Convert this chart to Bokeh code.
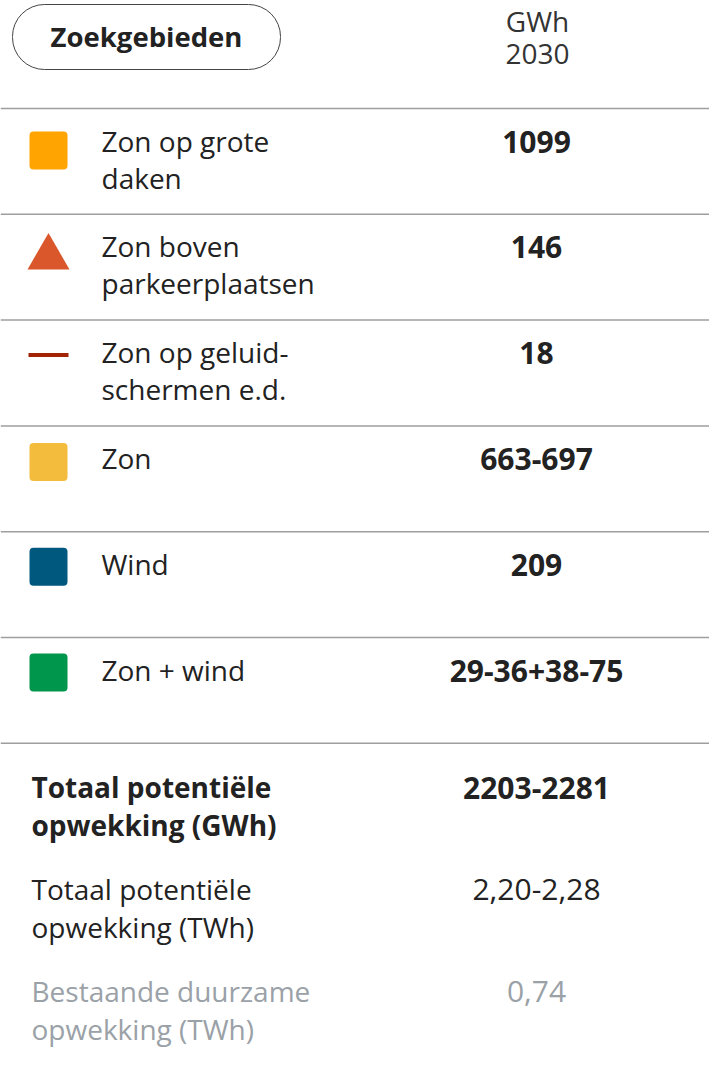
from bokeh.plotting import figure
from bokeh.models import Range1d
from bokeh.embed import file_html
from bokeh.resources import INLINE
from bokeh.core.properties import value

# ---- data ----
header_button = "Zoekgebieden"
header_unit = ["GWh", "2030"]
cat_lines = [["Zon op grote", "daken"],
             ["Zon boven", "parkeerplaatsen"],
             ["Zon op geluid-", "schermen e.d."],
             ["Zon"],
             ["Wind"],
             ["Zon + wind"]]
cat_values = ["1099", "146", "18", "663-697", "209", "29-36+38-75"]
cat_icons = ["square", "triangle", "line", "square", "square", "square"]
cat_colors = ["#FFA400", "#D9572B", "#A32405", "#F4BC3C", "#00587F", "#00964B"]
total_lines = [["Totaal potentiële", "opwekking (GWh)"],
               ["Totaal potentiële", "opwekking (TWh)"],
               ["Bestaande duurzame", "opwekking (TWh)"]]
total_values = ["2203-2281", "2,20-2,28", "0,74"]

# ---- layout constants ----
W, H = 709, 1074
FONT = "Open Sans"
DARK = "#222222"
GRAY_TXT = "#9AA1A7"
RULE = "#9E9E9E"
ROW0, ROWH = 108, 105.8
VAL_X = 536
LBL_X = 101
TOT_X = 31
FS = "28px"
VFS = "30px"
icon_dy = [8, 3, 1, 2, 1, 1]

p = figure(width=W, height=H, x_range=Range1d(0, W), y_range=Range1d(H, 0),
           output_backend="svg", toolbar_location=None, min_border=0,
           outline_line_color=None)
p.axis.visible = False
p.grid.visible = False
p.background_fill_color = "white"
p.border_fill_color = "white"

# header button
p.quad(left=[12], right=[280], top=[4], bottom=[69], fill_color="white",
       line_color="#444444", line_width=1, border_radius=32)
p.text(x=[146], y=[36], text=[header_button], text_font=value(FONT),
       text_font_style="bold", text_font_size="27.5px", text_color=DARK,
       text_align="center", text_baseline="middle")
p.text(x=[VAL_X + 1, VAL_X + 1], y=[20, 53], text=header_unit, text_font=value(FONT),
       text_font_size="28px", text_color="#333333", text_align="center", text_baseline="middle")

# rules
rule_ys = [ROW0 + i * ROWH for i in range(len(cat_values) + 1)]
p.segment(x0=[0] * len(rule_ys), x1=[W] * len(rule_ys), y0=rule_ys, y1=rule_ys,
          line_color=RULE, line_width=1.5)

# category rows
for i, (lines, val, icon, col) in enumerate(zip(cat_lines, cat_values, cat_icons, cat_colors)):
    top = ROW0 + i * ROWH
    y1 = top + 32
    ys = [y1 + 37 * k for k in range(len(lines))]
    p.text(x=[LBL_X] * len(lines), y=ys, text=lines, text_font=value(FONT),
           text_font_size=FS, text_color=DARK, text_baseline="middle")
    p.text(x=[VAL_X], y=[y1 + 1], text=[val], text_font=value(FONT), text_font_style="bold",
           text_font_size=VFS, text_color=DARK, text_align="center", text_baseline="middle")
    cy = y1 + 2 + icon_dy[i]
    cx = 48
    if icon == "square":
        p.quad(left=[cx - 19], right=[cx + 19], top=[cy - 19], bottom=[cy + 19],
               fill_color=col, line_color=None, border_radius=4)
    elif icon == "triangle":
        p.scatter(x=[cx], y=[cy + 6], marker="triangle", size=42, fill_color=col, line_color=None)
    else:
        p.segment(x0=[cx - 20], x1=[cx + 20], y0=[cy], y1=[cy], line_color=col, line_width=4)

# totals
for j, (lines, val) in enumerate(zip(total_lines, total_values)):
    y1 = 786 + 102 * j
    color = GRAY_TXT if j == 2 else DARK
    style = "bold" if j == 0 else "normal"
    p.text(x=[TOT_X, TOT_X], y=[y1, y1 + 38], text=lines, text_font=value(FONT),
           text_font_style=style, text_font_size=FS, text_color=color, text_baseline="middle")
    p.text(x=[VAL_X], y=[y1 + 1], text=[val], text_font=value(FONT), text_font_style=style,
           text_font_size=VFS, text_color=color, text_align="center", text_baseline="middle")

open("out.html", "w").write(file_html(p, INLINE))
